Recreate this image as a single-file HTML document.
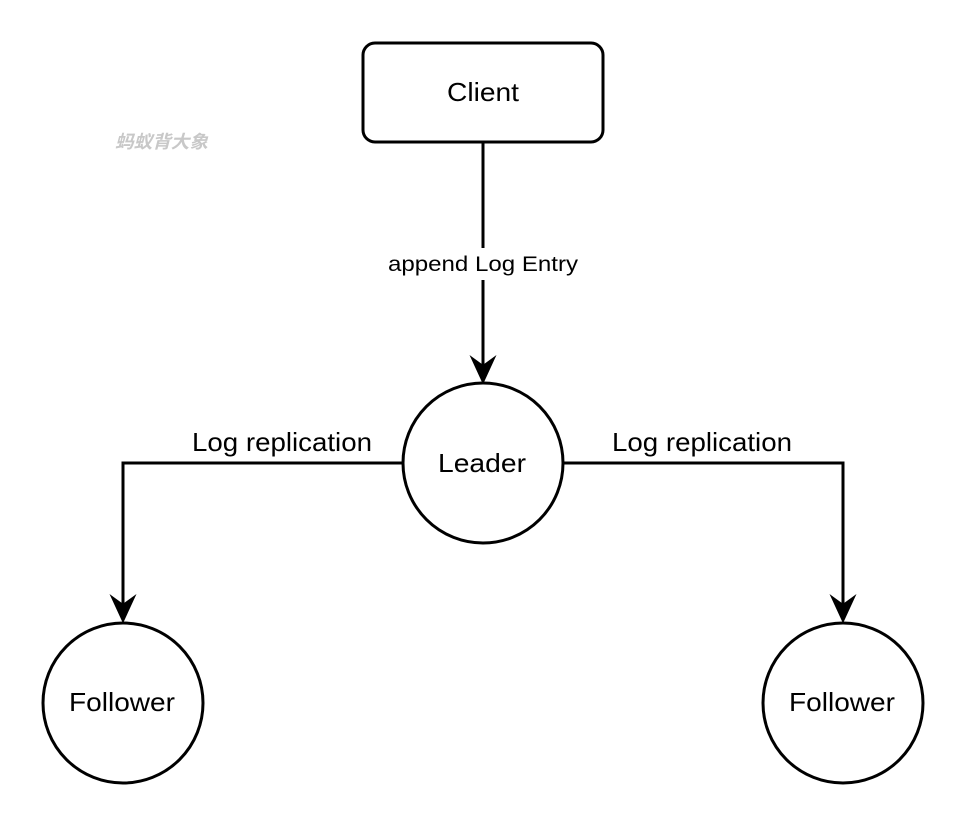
<!DOCTYPE html>
<html><head><meta charset="utf-8"><style>
html,body{margin:0;padding:0;background:#fff;}
svg{display:block;}
text{font-family:"Liberation Sans",Arial,sans-serif;}
</style></head><body>
<svg width="964" height="824" viewBox="0 0 964 824" xmlns="http://www.w3.org/2000/svg">
<rect x="363" y="43" width="240" height="99" rx="12" fill="#fff" stroke="#000" stroke-width="3"/>
<text x="447" y="101" font-size="26" textLength="72" lengthAdjust="spacingAndGlyphs">Client</text>
<text x="115" y="148" font-size="18" font-weight="bold" font-style="italic" fill="#c8c8c8" textLength="93" lengthAdjust="spacingAndGlyphs" style="font-family:'Liberation Sans','Noto Sans CJK SC',sans-serif">蚂蚁背大象</text>
<line x1="483" y1="142" x2="483" y2="248" stroke="#000" stroke-width="3"/>
<line x1="483" y1="280" x2="483" y2="366" stroke="#000" stroke-width="3"/>
<text x="388" y="271" font-size="21" textLength="190" lengthAdjust="spacingAndGlyphs">append Log Entry</text>
<path d="M483 382 L472 358 L483 366 L494 358 Z" fill="#000" stroke="#000" stroke-width="2"/>
<circle cx="483" cy="463" r="80" fill="#fff" stroke="#000" stroke-width="3"/>
<text x="438" y="472" font-size="26" textLength="88" lengthAdjust="spacingAndGlyphs">Leader</text>
<path d="M403 463 H123 V605" fill="none" stroke="#000" stroke-width="3"/>
<path d="M123 621 L112 597 L123 605 L134 597 Z" fill="#000" stroke="#000" stroke-width="2"/>
<path d="M563 463 H843 V605" fill="none" stroke="#000" stroke-width="3"/>
<path d="M843 621 L832 597 L843 605 L854 597 Z" fill="#000" stroke="#000" stroke-width="2"/>
<text x="192" y="451" font-size="26" textLength="180" lengthAdjust="spacingAndGlyphs">Log replication</text>
<text x="612" y="451" font-size="26" textLength="180" lengthAdjust="spacingAndGlyphs">Log replication</text>
<circle cx="123" cy="703" r="80" fill="#fff" stroke="#000" stroke-width="3"/>
<text x="69" y="711" font-size="26" textLength="106" lengthAdjust="spacingAndGlyphs">Follower</text>
<circle cx="843" cy="703" r="80" fill="#fff" stroke="#000" stroke-width="3"/>
<text x="789" y="711" font-size="26" textLength="106" lengthAdjust="spacingAndGlyphs">Follower</text>
</svg>
</body></html>
